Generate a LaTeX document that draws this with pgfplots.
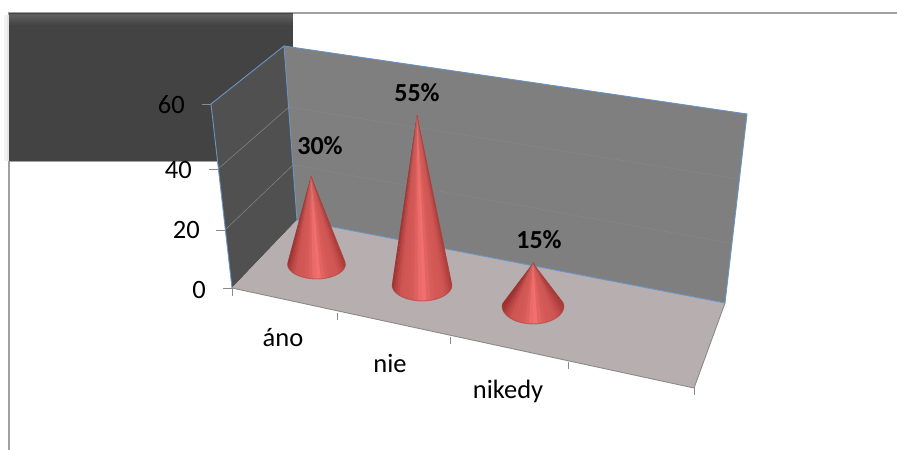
\documentclass[border=0pt]{standalone}
\usepackage{fontspec}
\setmainfont{Carlito}
\usepackage{pgfplots}
\pgfplotsset{compat=1.18}

% Colour ramp across a cone: dark rim, red body, soft light ridge near the axis.
\newcommand{\conecolour}[1]{%
  \pgfmathsetmacro{\uu}{abs(#1-0.03)}%
  \pgfmathsetmacro{\ww}{max(0,1-\uu/0.55)}%
  \pgfmathsetmacro{\ee}{max(0,(\uu-0.6)/0.4)}%
  \pgfmathsetmacro{\cr}{int(210+38*\ww*\ww-48*\ee*\ee)}%
  \pgfmathsetmacro{\cg}{int(88+28*\ww*\ww-34*\ee*\ee)}%
  \pgfmathsetmacro{\cb}{int(86+28*\ww*\ww-34*\ee*\ee)}%
}
% \cone{apex x}{base x}{base y}{rx}{ry}{value}{pixels per unit at that depth}
\newcommand{\cone}[7]{%
  \pgfmathsetmacro{\apexy}{#3-#6*#7}%
  \pgfplotsforeachungrouped \k in {0,...,23}{%
    \pgfmathsetmacro{\ta}{-8+\k*8.2}%
    \pgfmathsetmacro{\tb}{\ta+10.5}%
    \pgfmathsetmacro{\xa}{#2-#4*cos(\ta)}%
    \pgfmathsetmacro{\ya}{#3+#5*sin(\ta)}%
    \pgfmathsetmacro{\xb}{#2-#4*cos(\tb)}%
    \pgfmathsetmacro{\yb}{#3+#5*sin(\tb)}%
    \conecolour{-cos(\ta+4)}%
    \edef\slice{\noexpand\addplot[draw=none,fill={rgb,255:red,\cr;green,\cg;blue,\cb}]
      coordinates {(#1,\apexy) (\xa,\ya) (\xb,\yb)} -- cycle;}%
    \slice
  }%
  % darker rim along the front of the base
  \pgfplotsforeachungrouped \k in {0,...,17}{%
    \pgfmathsetmacro{\ta}{\k*10}%
    \pgfmathsetmacro{\tb}{\ta+10}%
    \pgfmathsetmacro{\xa}{#2-#4*cos(\ta)}%
    \pgfmathsetmacro{\ya}{#3+#5*sin(\ta)}%
    \pgfmathsetmacro{\xb}{#2-#4*cos(\tb)}%
    \pgfmathsetmacro{\yb}{#3+#5*sin(\tb)}%
    \edef\rim{\noexpand\addplot[line width=0.9pt,color={rgb,255:red,175;green,66;blue,64},opacity=0.6]
      coordinates {(\xa,\ya) (\xb,\yb)};}%
    \rim
  }%
}

\definecolor{framegrey}{HTML}{A0A0A0}
\definecolor{boxdark}{HTML}{434343}
\definecolor{sidewall}{HTML}{505050}
\definecolor{backwall}{HTML}{7F7F7F}
\definecolor{floorgrey}{HTML}{B7AFAF}
\definecolor{edgeblue}{HTML}{6A94C4}
\definecolor{tickgrey}{HTML}{8A8A8A}

\begin{document}
\begin{tikzpicture}[x=1bp,y=1bp]
\useasboundingbox (0,0) rectangle (897,450);
\begin{axis}[
  at={(0,0)}, anchor=south west,
  width=897bp, height=450bp, scale only axis,
  xmin=0, xmax=897, ymin=0, ymax=450, y dir=reverse,
  axis lines=none, clip=false, tick=\empty,
]
% outer frame
\addplot[framegrey,line width=1.4pt] coordinates {(9,450) (9,13) (897,13)};
% dark panel behind the plot, with soft left shadow
\addplot[draw=none,fill=black!5] coordinates {(4,15) (9,15) (9,161) (4,161)} -- cycle;
\addplot[draw=none,fill=black!10] coordinates {(7,15) (9,15) (9,161) (7,161)} -- cycle;
\addplot[draw=none,fill=boxdark] coordinates {(9,13) (293,13) (293,161) (9,161)} -- cycle;
\addplot[draw=none,fill=black!64] coordinates {(9,14) (293,14) (293,17) (9,17)} -- cycle;
\addplot[draw=none,fill=black!66] coordinates {(9,17) (293,17) (293,19) (9,19)} -- cycle;
\addplot[draw=none,fill=black!68] coordinates {(9,19) (293,19) (293,21) (9,21)} -- cycle;
\addplot[draw=none,fill=black!70] coordinates {(9,21) (293,21) (293,23) (9,23)} -- cycle;
\addplot[draw=none,fill=black!72] coordinates {(9,23) (293,23) (293,25) (9,25)} -- cycle;
\addplot[draw=none,fill=black!74] coordinates {(9,25) (293,25) (293,27) (9,27)} -- cycle;
\addplot[framegrey,line width=0.9pt] coordinates {(9,161.5) (293,161.5)};
% walls and floor
\addplot[draw=none,fill=sidewall] coordinates {(211,104) (284,46) (297,220) (232,288)} -- cycle;
\addplot[draw=none,fill=backwall] coordinates {(284,46) (747,114) (725,303) (297,220)} -- cycle;
\addplot[draw=none,fill=floorgrey] coordinates {(232,288) (297,220) (725,303) (694,388)} -- cycle;
% gridlines
\addplot[color=black!50,line width=0.6pt] coordinates {(218,169) (289,107)};
\addplot[color=black!50,line width=0.6pt] coordinates {(225,230) (293,165)};
\addplot[color=black!47,line width=0.5pt] coordinates {(289,107) (738,179)};
\addplot[color=black!47,line width=0.5pt] coordinates {(293,165) (730,243)};
% wall edges
\addplot[edgeblue,line width=0.9pt] coordinates {(232,288) (211,104) (284,46) (297,220)};
\addplot[edgeblue,line width=0.9pt] coordinates {(284,46) (747,114) (725,303) (297,220)};
% floor front and side edges
\addplot[tickgrey,line width=0.9pt] coordinates {(232,288) (694,388) (725,303)};
% value axis ticks
\addplot[tickgrey,line width=0.9pt] coordinates {(202,104) (211,104)};
\addplot[tickgrey,line width=0.9pt] coordinates {(209,169) (218,169)};
\addplot[tickgrey,line width=0.9pt] coordinates {(216,230) (225,230)};
\addplot[tickgrey,line width=0.9pt] coordinates {(223,288) (232,288)};
% category axis ticks
\addplot[tickgrey,line width=0.9pt] coordinates {(232,288) (232,296)};
\addplot[tickgrey,line width=0.9pt] coordinates {(337,313) (337,320)};
\addplot[tickgrey,line width=0.9pt] coordinates {(450,337) (450,344)};
\addplot[tickgrey,line width=0.9pt] coordinates {(568,362) (568,369)};
\addplot[tickgrey,line width=0.9pt] coordinates {(694,388) (694,395)};
% the three cones: 30, 55 and 15 percent
\cone{311}{316.5}{264}{29}{15}{30}{2.93}
\cone{417}{422}{285}{30}{16}{55}{3.09}
\cone{533}{533}{306}{31}{18}{15}{2.87}
% value axis labels
\tikzset{lab/.style={inner sep=0pt,font=\fontsize{26.5bp}{26.5bp}\selectfont},
         val/.style={inner sep=0pt,font=\bfseries\fontsize{26bp}{26bp}\selectfont}}
\node[lab,anchor=east] at (axis cs:185,105) {60};
\node[lab,anchor=east] at (axis cs:192,170) {40};
\node[lab,anchor=east] at (axis cs:200,230) {20};
\node[lab,anchor=east] at (axis cs:206,290) {0};
% category labels
\node[lab] at (axis cs:283,338) {áno};
\node[lab] at (axis cs:390,363) {nie};
\node[lab] at (axis cs:508,391) {nikedy};
% value labels
\node[val] at (axis cs:320,146) {30\%};
\node[val] at (axis cs:417,93) {55\%};
\node[val] at (axis cs:539,240) {15\%};
\end{axis}
\end{tikzpicture}
\end{document}
